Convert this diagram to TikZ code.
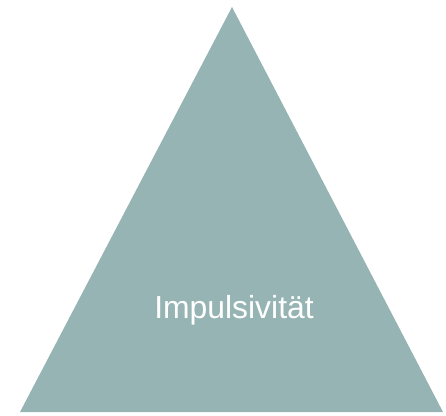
\documentclass[tikz,border=0pt]{standalone}
\usepackage{fontspec}
\setmainfont{Liberation Sans}
\definecolor{pyramid}{RGB}{150,180,179}
\begin{document}
\begin{tikzpicture}[x=1bp,y=-1bp,
  label/.style={text=white,font=\fontsize{32}{38}\selectfont,anchor=base,inner sep=0pt}]
  \useasboundingbox (0,0) rectangle (446,415);
  \coordinate (top) at (232,7);
  \coordinate (bl) at (20,412);
  \coordinate (br) at (443,412);
  \fill[pyramid] (top) -- (br) -- (bl) -- cycle;
  \node[label] (txt) at (234,318) {Impulsivität};
\end{tikzpicture}
\end{document}
